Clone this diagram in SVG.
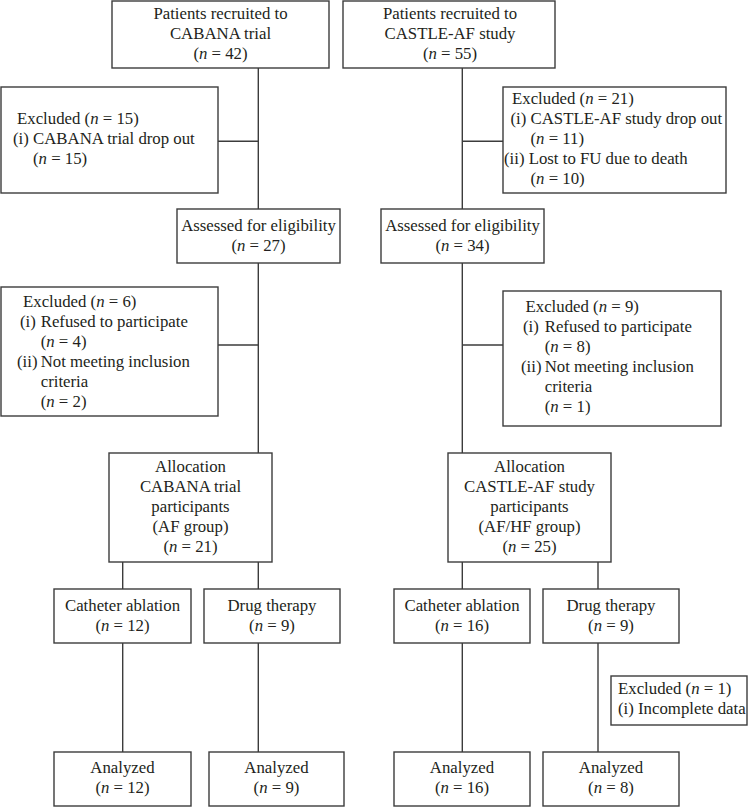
<svg xmlns="http://www.w3.org/2000/svg" width="748" height="807" viewBox="0 0 748 807">
<style>
  .box{fill:#fff;stroke:#3c3c3c;stroke-width:1.4}
  .ln{stroke:#3c3c3c;stroke-width:1.4;fill:none}
  text{font-family:"Liberation Serif","Times New Roman",serif;font-size:16.8px;fill:#231f20}
  .c{text-anchor:middle}
  .i{font-style:italic}
</style>
<rect width="748" height="807" fill="#fff"/>
<g id="connectors">
  <path class="ln" d="M258.3 68V209M258.3 263V453M218 141.3H258.3M218 345H258.3"/>
  <path class="ln" d="M462.3 68V209M462.3 263V453M462.3 141.3H503M462.3 345H503"/>
  <path class="ln" d="M122.7 562V589M258.3 562V589M122.7 643V752M258.3 643V752"/>
  <path class="ln" d="M462.3 562V589M598 562V589M462.3 643V752M598 643V752"/>
</g>
<g id="recruit-cabana">
  <rect class="box" x="112" y="1" width="217" height="67"/>
  <text class="c" x="220.5" y="19">Patients recruited to</text>
  <text class="c" x="220.5" y="39">CABANA trial</text>
  <text class="c" x="220.5" y="59">(<tspan class="i">n</tspan> = 42)</text>
</g>
<g id="recruit-castle">
  <rect class="box" x="343" y="1" width="212" height="67"/>
  <text class="c" x="450" y="19">Patients recruited to</text>
  <text class="c" x="450" y="39">CASTLE-AF study</text>
  <text class="c" x="450" y="59">(<tspan class="i">n</tspan> = 55)</text>
</g>
<g id="excluded-cabana-1">
  <rect class="box" x="1" y="87" width="217" height="106"/>
  <text x="17" y="124">Excluded (<tspan class="i">n</tspan> = 15)</text>
  <text x="13" y="144">(i) CABANA trial drop out</text>
  <text x="33" y="164">(<tspan class="i">n</tspan> = 15)</text>
</g>
<g id="excluded-castle-1">
  <rect class="box" x="503" y="87" width="223" height="106"/>
  <text x="512" y="104">Excluded (<tspan class="i">n</tspan> = 21)</text>
  <text x="510.5" y="124">(i) CASTLE-AF study drop out</text>
  <text x="530.5" y="144">(<tspan class="i">n</tspan> = 11)</text>
  <text x="504" y="164">(ii) Lost to FU due to death</text>
  <text x="530.5" y="184">(<tspan class="i">n</tspan> = 10)</text>
</g>
<g id="assessed-cabana">
  <rect class="box" x="177" y="209" width="163" height="54"/>
  <text class="c" x="258.5" y="231">Assessed for eligibility</text>
  <text class="c" x="258.5" y="251">(<tspan class="i">n</tspan> = 27)</text>
</g>
<g id="assessed-castle">
  <rect class="box" x="381" y="209" width="163" height="54"/>
  <text class="c" x="462.5" y="231">Assessed for eligibility</text>
  <text class="c" x="462.5" y="251">(<tspan class="i">n</tspan> = 34)</text>
</g>
<g id="excluded-cabana-2">
  <rect class="box" x="1" y="287" width="217" height="129"/>
  <text x="23" y="307">Excluded (<tspan class="i">n</tspan> = 6)</text>
  <text x="20" y="327">(i)</text><text x="40.7" y="327">Refused to participate</text>
  <text x="40.7" y="347">(<tspan class="i">n</tspan> = 4)</text>
  <text x="17" y="367">(ii)</text><text x="40.7" y="367">Not meeting inclusion</text>
  <text x="40.7" y="387">criteria</text>
  <text x="40.7" y="407">(<tspan class="i">n</tspan> = 2)</text>
</g>
<g id="excluded-castle-2">
  <rect class="box" x="503" y="291" width="218" height="135"/>
  <text x="525.5" y="312">Excluded (<tspan class="i">n</tspan> = 9)</text>
  <text x="523" y="332">(i)</text><text x="544.7" y="332">Refused to participate</text>
  <text x="544.7" y="352">(<tspan class="i">n</tspan> = 8)</text>
  <text x="521" y="372">(ii)</text><text x="544.7" y="372">Not meeting inclusion</text>
  <text x="544.7" y="392">criteria</text>
  <text x="544.7" y="412">(<tspan class="i">n</tspan> = 1)</text>
</g>
<g id="allocation-cabana">
  <rect class="box" x="109" y="453" width="163" height="109"/>
  <text class="c" x="190.5" y="472">Allocation</text>
  <text class="c" x="190.5" y="492">CABANA trial</text>
  <text class="c" x="190.5" y="512">participants</text>
  <text class="c" x="190.5" y="532">(AF group)</text>
  <text class="c" x="190.5" y="552">(<tspan class="i">n</tspan> = 21)</text>
</g>
<g id="allocation-castle">
  <rect class="box" x="448" y="453" width="163" height="109"/>
  <text class="c" x="529.5" y="472">Allocation</text>
  <text class="c" x="529.5" y="492">CASTLE-AF study</text>
  <text class="c" x="529.5" y="512">participants</text>
  <text class="c" x="529.5" y="532">(AF/HF group)</text>
  <text class="c" x="529.5" y="552">(<tspan class="i">n</tspan> = 25)</text>
</g>
<g id="cath-cabana">
  <rect class="box" x="54" y="589" width="137" height="54"/>
  <text class="c" x="122.5" y="611">Catheter ablation</text>
  <text class="c" x="122.5" y="631">(<tspan class="i">n</tspan> = 12)</text>
</g>
<g id="drug-cabana">
  <rect class="box" x="204" y="589" width="136" height="54"/>
  <text class="c" x="272" y="611">Drug therapy</text>
  <text class="c" x="272" y="631">(<tspan class="i">n</tspan> = 9)</text>
</g>
<g id="cath-castle">
  <rect class="box" x="394" y="589" width="136" height="54"/>
  <text class="c" x="462" y="611">Catheter ablation</text>
  <text class="c" x="462" y="631">(<tspan class="i">n</tspan> = 16)</text>
</g>
<g id="drug-castle">
  <rect class="box" x="543" y="589" width="136" height="54"/>
  <text class="c" x="611" y="611">Drug therapy</text>
  <text class="c" x="611" y="631">(<tspan class="i">n</tspan> = 9)</text>
</g>
<g id="excluded-castle-3">
  <rect class="box" x="611" y="676" width="136" height="49"/>
  <text x="618" y="694">Excluded (<tspan class="i">n</tspan> = 1)</text>
  <text x="618" y="714">(i) Incomplete data</text>
</g>
<g id="analyzed-cabana-cath">
  <rect class="box" x="54" y="752" width="137" height="54"/>
  <text class="c" x="122.5" y="773">Analyzed</text>
  <text class="c" x="122.5" y="793">(<tspan class="i">n</tspan> = 12)</text>
</g>
<g id="analyzed-cabana-drug">
  <rect class="box" x="209" y="752" width="135" height="54"/>
  <text class="c" x="276.5" y="773">Analyzed</text>
  <text class="c" x="276.5" y="793">(<tspan class="i">n</tspan> = 9)</text>
</g>
<g id="analyzed-castle-cath">
  <rect class="box" x="394" y="752" width="136" height="54"/>
  <text class="c" x="462" y="773">Analyzed</text>
  <text class="c" x="462" y="793">(<tspan class="i">n</tspan> = 16)</text>
</g>
<g id="analyzed-castle-drug">
  <rect class="box" x="543" y="752" width="136" height="54"/>
  <text class="c" x="611" y="773">Analyzed</text>
  <text class="c" x="611" y="793">(<tspan class="i">n</tspan> = 8)</text>
</g>
</svg>
